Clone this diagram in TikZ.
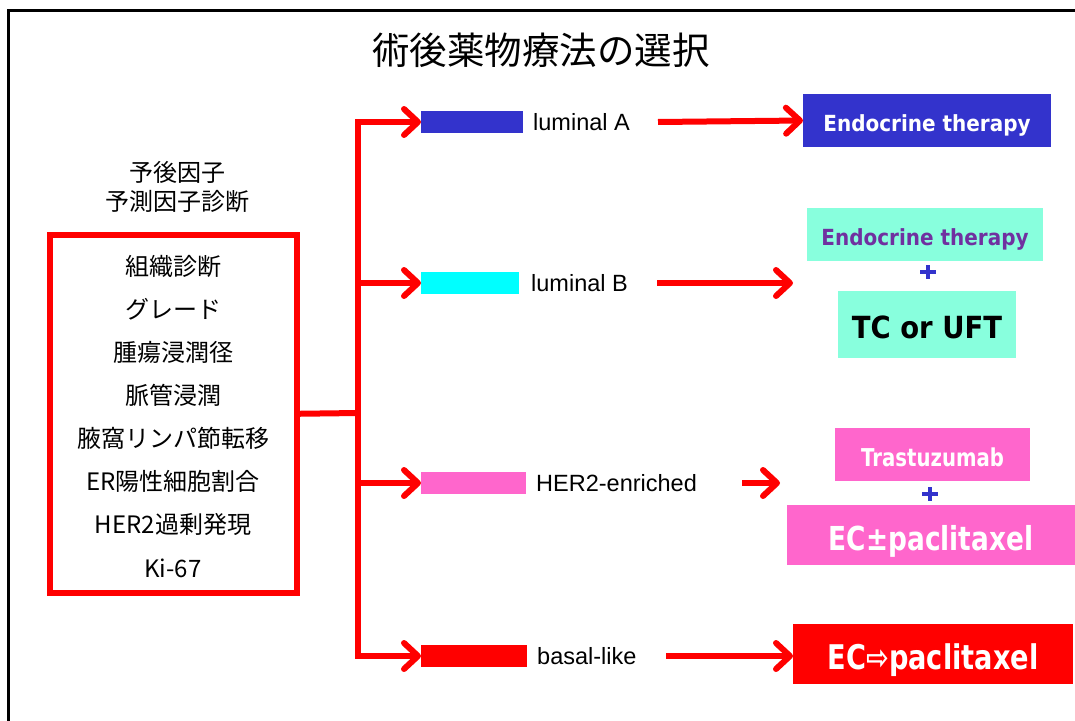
\documentclass[tikz,border=0pt]{standalone}
\usepackage{fontspec}
\setmainfont{Liberation Sans}
\newfontfamily\jp{Noto Sans CJK JP}
\newfontfamily\bx[FakeStretch=0.9]{DejaVu Sans}
\newfontfamily\bxn[FakeStretch=0.8]{DejaVu Sans}
\usetikzlibrary{arrows.meta}
\definecolor{myblue}{HTML}{3333CC}
\definecolor{mycyan}{HTML}{00FFFF}
\definecolor{mypink}{HTML}{FF66CC}
\definecolor{myred}{HTML}{FF0000}
\definecolor{aquam}{HTML}{88FFDD}
\definecolor{purp}{HTML}{7030A0}
\newcommand\lowr[1]{\raisebox{-3pt}[\height][0pt]{#1}}
\begin{document}
\begin{tikzpicture}[x=1pt,y=-1pt,
  conn/.style={draw=myred,line width=6pt},
  arr/.style={conn,-{Straight Barb[length=14pt,width=26pt,round]}},
  bar/.style={minimum height=22pt,inner sep=0pt,outer sep=0pt},
  lab/.style={anchor=west,inner sep=0pt,font=\fontsize{23.5}{28}\selectfont},
  tbox/.style={inner sep=0pt,outer sep=0pt,text depth=0pt},
  jl/.style={font=\jp\fontsize{24}{29}\selectfont,inner sep=0pt},
  plus/.style={draw=myblue,line width=4.5pt}
]
\useasboundingbox (0,0) rectangle (1075,720);
\draw[line width=2.5pt] (8.5,730) -- (8.5,10.5) -- (1085,10.5);

\node[font=\jp\fontsize{37.5}{40}\selectfont,inner sep=0pt] (title) at (541,50) {術後薬物療法の選択};

\node[jl,align=center] (head) at (177,187) {予後因子\\予測因子診断};

\node[draw=myred,line width=6pt,minimum width=247pt,minimum height=358.5pt,inner sep=0pt] (box) at (173.5,413.75) {};
\node[jl] (f1) at (173,266) {組織診断};
\node[jl] (f2) at (173,309) {グレード};
\node[jl] (f3) at (173,352) {腫瘍浸潤径};
\node[jl] (f4) at (173,395) {脈管浸潤};
\node[jl] (f5) at (173,438) {腋窩リンパ節転移};
\node[jl] (f6) at (173,481) {ER陽性細胞割合};
\node[jl] (f7) at (173,524) {HER2過剰発現};
\node[jl] (f8) at (173,568) {Ki-67};

% subtype bars
\node[bar,fill=myblue,minimum width=102pt] (barA) at (472,122) {};
\node[bar,fill=mycyan,minimum width=98pt] (barB) at (470,283) {};
\node[bar,fill=mypink,minimum width=105pt] (barH) at (473.5,483) {};
\node[bar,fill=myred,minimum width=106pt] (barD) at (474,656) {};

\node[lab] (labA) at (533,122) {luminal A};
\node[lab] (labB) at (531,283) {luminal B};
\node[lab] (labH) at (536,483) {HER2-enriched};
\node[lab] (labD) at (537,656) {basal-like};

% tree connectors
\coordinate (tr) at (358,413);
\draw[conn] (box.east) -- (tr);
\draw[arr] (tr) |- (barA.west);
\draw[arr] (tr) |- (barB.west);
\draw[arr] (tr) |- (barH.west);
\draw[arr] (tr) |- (barD.west);

% therapy boxes
\node[tbox,fill=myblue,minimum width=248pt,minimum height=53pt,text=white,font=\bx\bfseries\fontsize{22.2}{24}\selectfont] (EA) at (927,120.5) {\lowr{Endocrine therapy}};
\node[tbox,fill=aquam,minimum width=236pt,minimum height=53pt,text=purp,font=\bx\bfseries\fontsize{22.2}{24}\selectfont] (EB) at (925,234.5) {\lowr{Endocrine therapy}};
\node[tbox,fill=aquam,minimum width=178pt,minimum height=67pt,text=black,font=\bx\bfseries\fontsize{30.5}{34}\selectfont] (TC) at (927,324.5) {\lowr{TC or UFT}};
\node[tbox,fill=mypink,minimum width=195pt,minimum height=53pt,text=white,font=\bxn\bfseries\fontsize{24.6}{26}\selectfont] (TR) at (932.5,454.5) {\lowr{Trastuzumab}};
\node[tbox,fill=mypink,minimum width=288pt,minimum height=60pt,text=white,font=\bxn\bfseries\fontsize{33}{36}\selectfont] (ECp) at (931,535) {\lowr{EC±paclitaxel}};
\node[tbox,fill=myred,minimum width=280pt,minimum height=60pt,text=white,font=\bxn\bfseries\fontsize{34}{36}\selectfont] (ECd) at (933,654) {\lowr{EC⇨paclitaxel}};

% plus signs
\draw[plus] (920,272) -- (936,272) (928,265) -- (928,279);
\draw[plus] (922,494) -- (938,494) (930,487) -- (930,501);

% right arrows
\coordinate (sA) at (658,122);
\coordinate (sB) at (657,283);
\coordinate (eB) at (793,283);
\coordinate (sH) at (742,483);
\coordinate (eH) at (780,483);
\coordinate (sD) at (666,656);
\coordinate (eD) at (793,656);
\draw[arr] (sA) -- (EA.west);
\draw[arr] (sB) -- (eB);
\draw[arr] (sH) -- (eH);
\draw[arr] (sD) -- (eD);
\end{tikzpicture}
\end{document}
